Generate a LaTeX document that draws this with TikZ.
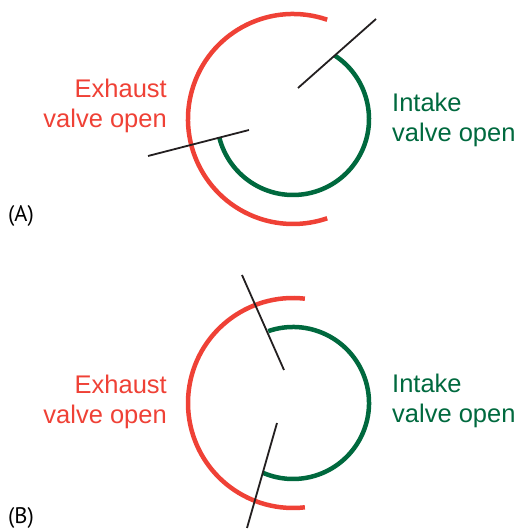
\documentclass[tikz,border=0pt]{standalone}
\usepackage{fontspec}
\setmainfont{Liberation Sans}
\newfontfamily\tagfont{PT Sans}
\usetikzlibrary{calc}
\definecolor{Ec}{HTML}{EF4136}
\definecolor{Ic}{HTML}{00693E}
\definecolor{Tc}{HTML}{231F20}
\newcommand{\lblfont}{\fontsize{25.5}{30}\selectfont}
\tikzset{
  exh/.style={draw=Ec, line width=4.5pt},
  intk/.style={draw=Ic, line width=4.5pt},
  tdc/.style={draw=Tc, line width=1.8pt},
  exlbl/.style={text=Ec, font=\lblfont, align=right, anchor=base east, inner sep=0pt},
  inlbl/.style={text=Ic, font=\lblfont, align=left, anchor=base west, inner sep=0pt},
  tag/.style={font=\tagfont\fontsize{22.5}{26}\selectfont, anchor=base west, inner sep=0pt},
}
% #1 centre, #2 exhaust start angle, #3/#4 intake start/end angle
\newcommand{\valvearcs}[4]{%
  \draw[exh] (#1) ++(#2:105) arc[start angle=#2, end angle={360-#2}, radius=105];
  \draw[intk] (#1) ++(#3:76) arc[start angle=#3, end angle=#4, radius=76];}

\begin{document}
\begin{tikzpicture}[x=1pt, y=1pt]
  \useasboundingbox (0,0) rectangle (520,530);
  % panel A
  \coordinate (cA) at (293,411);
  \valvearcs{cA}{71}{56.5}{-165.6}
  \coordinate (tA1) at (298,442); \coordinate (tA2) at (376,511);
  \coordinate (bA1) at (148,374); \coordinate (bA2) at (249,400);
  \draw[tdc] (tA1) -- (tA2);
  \draw[tdc] (bA1) -- (bA2);
  \node[exlbl] (exA) at (167,402) {Exhaust\\valve open};
  \node[inlbl] (inA) at (392,388) {Intake\\valve open};
  \node[tag] (tagA) at (8,308) {(A)};
  % panel B
  \coordinate (cB) at (293,127);
  \valvearcs{cB}{83.5}{109}{-113}
  \coordinate (tB1) at (242,255); \coordinate (tB2) at (284,160);
  \coordinate (bB1) at (277,107); \coordinate (bB2) at (247,2);
  \draw[tdc] (tB1) -- (tB2);
  \draw[tdc] (bB1) -- (bB2);
  \node[exlbl] (exB) at (167,106) {Exhaust\\valve open};
  \node[inlbl] (inB) at (392,107) {Intake\\valve open};
  \node[tag] (tagB) at (8,6) {(B)};
\end{tikzpicture}
\end{document}
